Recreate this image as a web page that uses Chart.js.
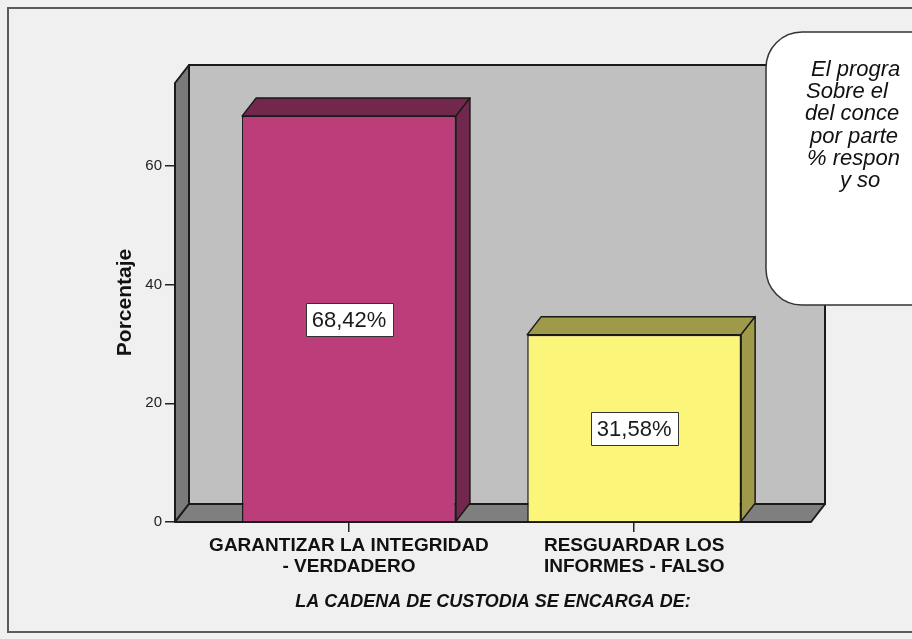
<!DOCTYPE html>
<html lang="es">
<head>
<meta charset="utf-8">
<title>La cadena de custodia se encarga de</title>
<script src="https://cdn.jsdelivr.net/npm/chart.js@4.4.0/dist/chart.umd.min.js"></script>
<style>
  html, body { margin: 0; padding: 0; background: #f0f0f0; overflow: hidden; }
  canvas { display: block; }
</style>
</head>
<body>
<canvas id="custodiaChart" width="912" height="639"></canvas>
<script>
// categorías (cada elemento es una etiqueta de dos líneas)
const categorias = [
  ['GARANTIZAR LA INTEGRIDAD', '- VERDADERO'],
  ['RESGUARDAR LOS', 'INFORMES - FALSO']
];
// posición de cada barra sobre el eje X lineal
const posiciones = [1, 2];
// porcentaje de respuestas
const porcentajes = [68.42, 31.58];
// marcas del eje Y
const marcasY = [0, 20, 40, 60];
// texto de la nota (cortado por el borde derecho)
const notaLineas = ['El progra', 'Sobre el', 'del conce', 'por parte', '% respon', 'y so'];

const FUENTE = "'Liberation Sans', Arial, sans-serif";
const PX = 14;   // profundidad 3D en x
const PY = 18;   // profundidad 3D en y

function poligono(ctx, pts, relleno) {
  ctx.beginPath();
  ctx.moveTo(pts[0][0], pts[0][1]);
  for (let i = 1; i < pts.length; i++) ctx.lineTo(pts[i][0], pts[i][1]);
  ctx.closePath();
  ctx.fillStyle = relleno;
  ctx.fill();
  ctx.stroke();
}

const caja3d = {
  id: 'caja3d',
  beforeDraw(chart) {
    const ctx = chart.ctx;
    ctx.save();
    ctx.strokeStyle = '#5a5a5a';
    ctx.lineWidth = 2;
    ctx.strokeRect(8, 8, 960, 624);
    ctx.restore();
  },
  beforeDatasetsDraw(chart) {
    const { ctx, chartArea } = chart;
    const L = chartArea.left, R = chartArea.right, T = chartArea.top, B = chartArea.bottom;
    ctx.save();
    ctx.lineJoin = 'round';
    ctx.strokeStyle = '#1a1a1a';
    ctx.lineWidth = 2;
    // pared del fondo
    poligono(ctx, [[L + PX, T - PY], [R + PX, T - PY], [R + PX, B - PY], [L + PX, B - PY]], '#c0c0c0');
    // pared izquierda
    poligono(ctx, [[L, T], [L + PX, T - PY], [L + PX, B - PY], [L, B]], '#7a7a7a');
    // piso
    poligono(ctx, [[L, B], [L + PX, B - PY], [R + PX, B - PY], [R, B]], '#7f7f7f');
    ctx.restore();
  },
  afterDatasetsDraw(chart) {
    const ctx = chart.ctx;
    const ds = chart.data.datasets[0];
    const meta = chart.getDatasetMeta(0);
    ctx.save();
    ctx.lineJoin = 'round';
    ctx.strokeStyle = '#1a1a1a';
    ctx.lineWidth = 1.5;
    meta.data.forEach((bar, i) => {
      const { x, y, base, width } = bar.getProps(['x', 'y', 'base', 'width'], true);
      const izq = x - width / 2, der = x + width / 2;
      const sombra = ds.sideColor[i];
      // cara superior
      poligono(ctx, [[izq, y], [izq + PX, y - PY], [der + PX, y - PY], [der, y]], sombra);
      // cara lateral
      poligono(ctx, [[der, y], [der + PX, y - PY], [der + PX, base - PY], [der, base]], sombra);
    });
    // etiquetas de valor
    ctx.font = '22px ' + FUENTE;
    ctx.textAlign = 'center';
    ctx.textBaseline = 'middle';
    meta.data.forEach((bar, i) => {
      const { x, y, base } = bar.getProps(['x', 'y', 'base'], true);
      const texto = ds.data[i].y.toFixed(2).replace('.', ',') + '%';
      const w = ctx.measureText(texto).width + 12;
      const h = 33;
      const cy = (y + base) / 2 + 1;
      ctx.fillStyle = '#ffffff';
      ctx.fillRect(Math.round(x - w / 2) + 0.5, Math.round(cy - h / 2) + 0.5, Math.round(w), h);
      ctx.strokeStyle = '#333333';
      ctx.lineWidth = 1;
      ctx.strokeRect(Math.round(x - w / 2) + 0.5, Math.round(cy - h / 2) + 0.5, Math.round(w), h);
      ctx.fillStyle = '#1a1a1a';
      ctx.fillText(texto, x, cy + 1);
    });
    ctx.restore();
  },
  afterDraw(chart) {
    // nota con esquinas redondeadas
    const ctx = chart.ctx;
    ctx.save();
    ctx.beginPath();
    ctx.roundRect(766, 32, 260, 273, 36);
    ctx.fillStyle = '#ffffff';
    ctx.fill();
    ctx.strokeStyle = '#333333';
    ctx.lineWidth = 1.5;
    ctx.stroke();
    ctx.font = 'italic 22px ' + FUENTE;
    ctx.fillStyle = '#111111';
    ctx.textBaseline = 'alphabetic';
    const xs = [811, 806, 805, 810, 807, 840];
    notaLineas.forEach((linea, i) => {
      ctx.fillText(linea, xs[i], 76 + i * 22.2);
    });
    ctx.restore();
  }
};

new Chart(document.getElementById('custodiaChart'), {
  type: 'bar',
  data: {
    datasets: [{
      data: porcentajes.map((v, i) => ({ x: posiciones[i], y: v })),
      backgroundColor: ['#bb3e7b', '#fbf67a'],
      sideColor: ['#72284d', '#9e9a4a'],
      borderColor: '#1a1a1a',
      borderWidth: 1.5,
      categoryPercentage: 1,
      barPercentage: 0.75
    }]
  },
  options: {
    responsive: false,
    animation: false,
    layout: { padding: { top: 83, right: 101, left: 0, bottom: 0 } },
    plugins: { legend: { display: false }, tooltip: { enabled: false } },
    scales: {
      x: {
        type: 'linear',
        min: 0.39,
        max: 2.62,
        offset: false,
        afterBuildTicks: s => { s.ticks = posiciones.map(v => ({ value: v })); },
        afterFit: s => { s.height = 117; },
        grid: { offset: false, drawOnChartArea: false, tickLength: 10, color: '#222', lineWidth: 1.5 },
        border: { display: false },
        ticks: {
          autoSkip: false,
          maxRotation: 0,
          padding: 3,
          color: '#111',
          font: { family: FUENTE, size: 19, weight: 'bold', lineHeight: 1.1 },
          callback: v => categorias[posiciones.indexOf(v)]
        },
        title: {
          display: true,
          text: 'LA CADENA DE CUSTODIA SE ENCARGA DE:',
          color: '#111',
          font: { family: FUENTE, size: 18, weight: 'bold', style: 'italic' },
          padding: { top: 0, bottom: 26 }
        }
      },
      y: {
        min: 0,
        max: 74,
        afterBuildTicks: s => { s.ticks = marcasY.map(v => ({ value: v })); },
        afterFit: s => { s.width = 175; },
        grid: { drawOnChartArea: false, tickLength: 10, color: '#222', lineWidth: 1.5 },
        border: { display: false },
        ticks: { padding: 3, color: '#222', font: { family: FUENTE, size: 15 } },
        title: {
          display: true,
          text: 'Porcentaje',
          color: '#111',
          font: { family: FUENTE, size: 21, weight: 'bold' },
          padding: { top: 113, bottom: 0 }
        }
      }
    }
  },
  plugins: [caja3d]
});
</script>
</body>
</html>
